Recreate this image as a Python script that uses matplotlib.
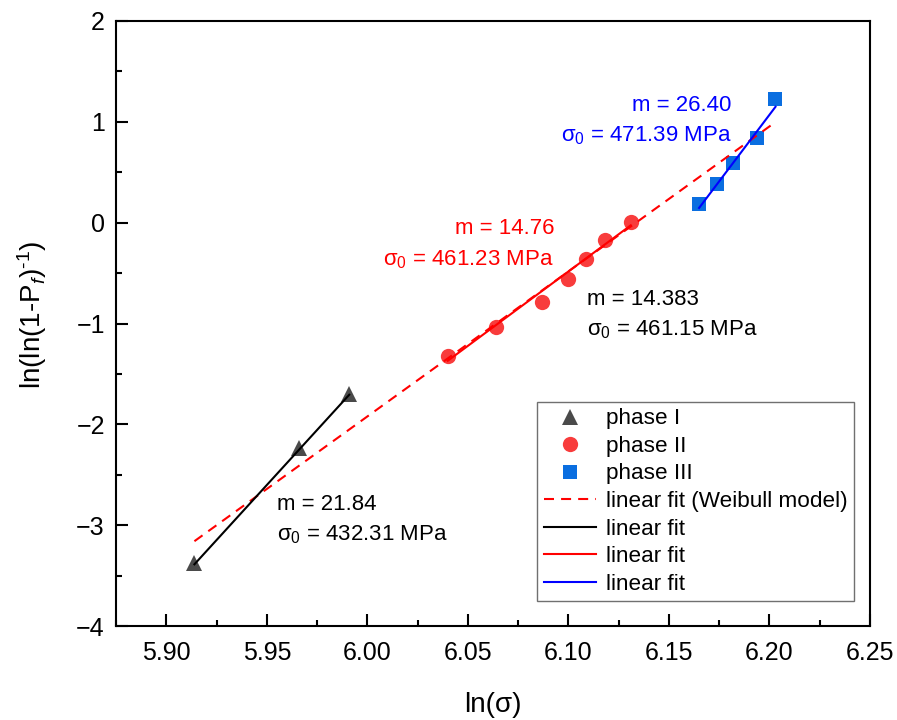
import numpy as np
import matplotlib
matplotlib.use('Agg')
import matplotlib.pyplot as plt

plt.rcParams['font.family'] = ['Liberation Sans', 'DejaVu Sans']
plt.rcParams['mathtext.fontset'] = 'custom'
plt.rcParams['mathtext.rm'] = 'Liberation Sans'
plt.rcParams['mathtext.it'] = 'Liberation Sans:italic'
plt.rcParams['mathtext.bf'] = 'Liberation Sans:bold'
plt.rcParams['mathtext.default'] = 'regular'

# ln(sigma) vs ln(ln(1/(1-Pf))) for the three fracture phases
x_phase1 = [5.914, 5.966, 5.991]
y_phase1 = [-3.374, -2.239, -1.697]
x_phase2 = [6.040, 6.064, 6.087, 6.100, 6.109, 6.118, 6.131]
y_phase2 = [-1.323, -1.036, -0.785, -0.562, -0.364, -0.175, 0.009]
x_phase3 = [6.165, 6.174, 6.182, 6.194, 6.203]
y_phase3 = [0.188, 0.380, 0.588, 0.836, 1.226]

# linear fits y = m*x + b over [x0, x1]
fit_labels = ['linear fit (Weibull model)', 'linear fit', 'linear fit', 'linear fit']
fit_m = [14.383, 21.84, 14.76, 26.40]
fit_b = [-88.22, -132.55, -90.52, -162.61]
fit_x0 = [5.914, 5.914, 6.040, 6.165]
fit_x1 = [6.203, 5.991, 6.131, 6.203]
fit_sigma0 = [461.15, 432.31, 461.23, 471.39]

fig = plt.figure(figsize=(8.97, 7.2), dpi=100)
ax = fig.add_axes([116/897, 1 - 626/720, 754/897, 605/720])

ax.plot(x_phase1, y_phase1, '^', color='#4a4a4a', ms=11.5, mew=0, label='phase I', zorder=2)
ax.plot(x_phase2, y_phase2, 'o', color='#f83c3c', ms=11, mew=0, label='phase II', zorder=2)
ax.plot(x_phase3, y_phase3, 's', color='#0a6ee0', ms=9.5, mew=0, label='phase III', zorder=2)

fit_styles = [dict(color='red', ls=(0, (4.8, 3.4))),
              dict(color='black', ls='-'),
              dict(color='red', ls='-'),
              dict(color='blue', ls='-')]
for i in range(len(fit_m)):
    xs = np.array([fit_x0[i], fit_x1[i]])
    ax.plot(xs, fit_m[i] * xs + fit_b[i], lw=1.5, label=fit_labels[i], zorder=3, **fit_styles[i])

# fit parameters
txt = 16
ax.text(6.181, 1.110, 'm = %.2f' % fit_m[3], color='blue', fontsize=txt, ha='right', va='baseline')
ax.text(6.181, 0.806, r'$\sigma_0$ = %.2f MPa' % fit_sigma0[3], color='blue', fontsize=txt, ha='right', va='baseline')
ax.text(6.0929, -0.116, 'm = %.2f' % fit_m[2], color='red', fontsize=txt, ha='right', va='baseline')
ax.text(6.0929, -0.424, r'$\sigma_0$ = %.2f MPa' % fit_sigma0[2], color='red', fontsize=txt, ha='right', va='baseline')
ax.text(6.1093, -0.817, 'm = %.3f' % fit_m[0], color='black', fontsize=txt, ha='left', va='baseline')
ax.text(6.1093, -1.122, r'$\sigma_0$ = %.2f MPa' % fit_sigma0[0], color='black', fontsize=txt, ha='left', va='baseline')
ax.text(5.955, -2.851, 'm = %.2f' % fit_m[1], color='black', fontsize=txt, ha='left', va='baseline')
ax.text(5.955, -3.156, r'$\sigma_0$ = %.2f MPa' % fit_sigma0[1], color='black', fontsize=txt, ha='left', va='baseline')

ax.set_xlim(5.875, 6.25)
ax.set_ylim(-4, 2)
ax.set_xticks(np.arange(5.90, 6.251, 0.05))
ax.set_xticks(np.arange(5.875, 6.251, 0.025), minor=True)
ax.set_yticks(np.arange(-4, 2.01, 1))
ax.set_yticks(np.arange(-4, 2.01, 0.5), minor=True)
ax.xaxis.set_major_formatter(plt.FormatStrFormatter('%.2f'))
ax.tick_params(which='both', direction='in', width=1.5, labelsize=18)
ax.tick_params(axis='x', pad=10.5)
ax.tick_params(axis='y', pad=8)
ax.tick_params(which='major', length=8.6)
ax.tick_params(which='minor', length=4.3)
for s in ax.spines.values():
    s.set_linewidth(1.5)

ax.set_xlabel('ln(σ)', fontsize=20, va='center')
ax.xaxis.set_label_coords(0.5, -0.13)
ax.set_ylabel(r'ln(ln(1-P$_{\mathit{f}}$)$^{\text{-}1}$)', fontsize=20, va='center')
ax.yaxis.set_label_coords(-0.1114, 0.514)

leg = ax.legend(loc='upper left', bbox_to_anchor=((537.3 - 116) / 754, (626 - 401.7) / 605),
                borderaxespad=0, fontsize=16.2, frameon=True, fancybox=False, framealpha=1,
                edgecolor='#707070', borderpad=0.3, handlelength=2.3, handletextpad=0.45,
                labelspacing=0.29)
leg.get_frame().set_linewidth(1.0)

fig.savefig('out.png', dpi=100)
